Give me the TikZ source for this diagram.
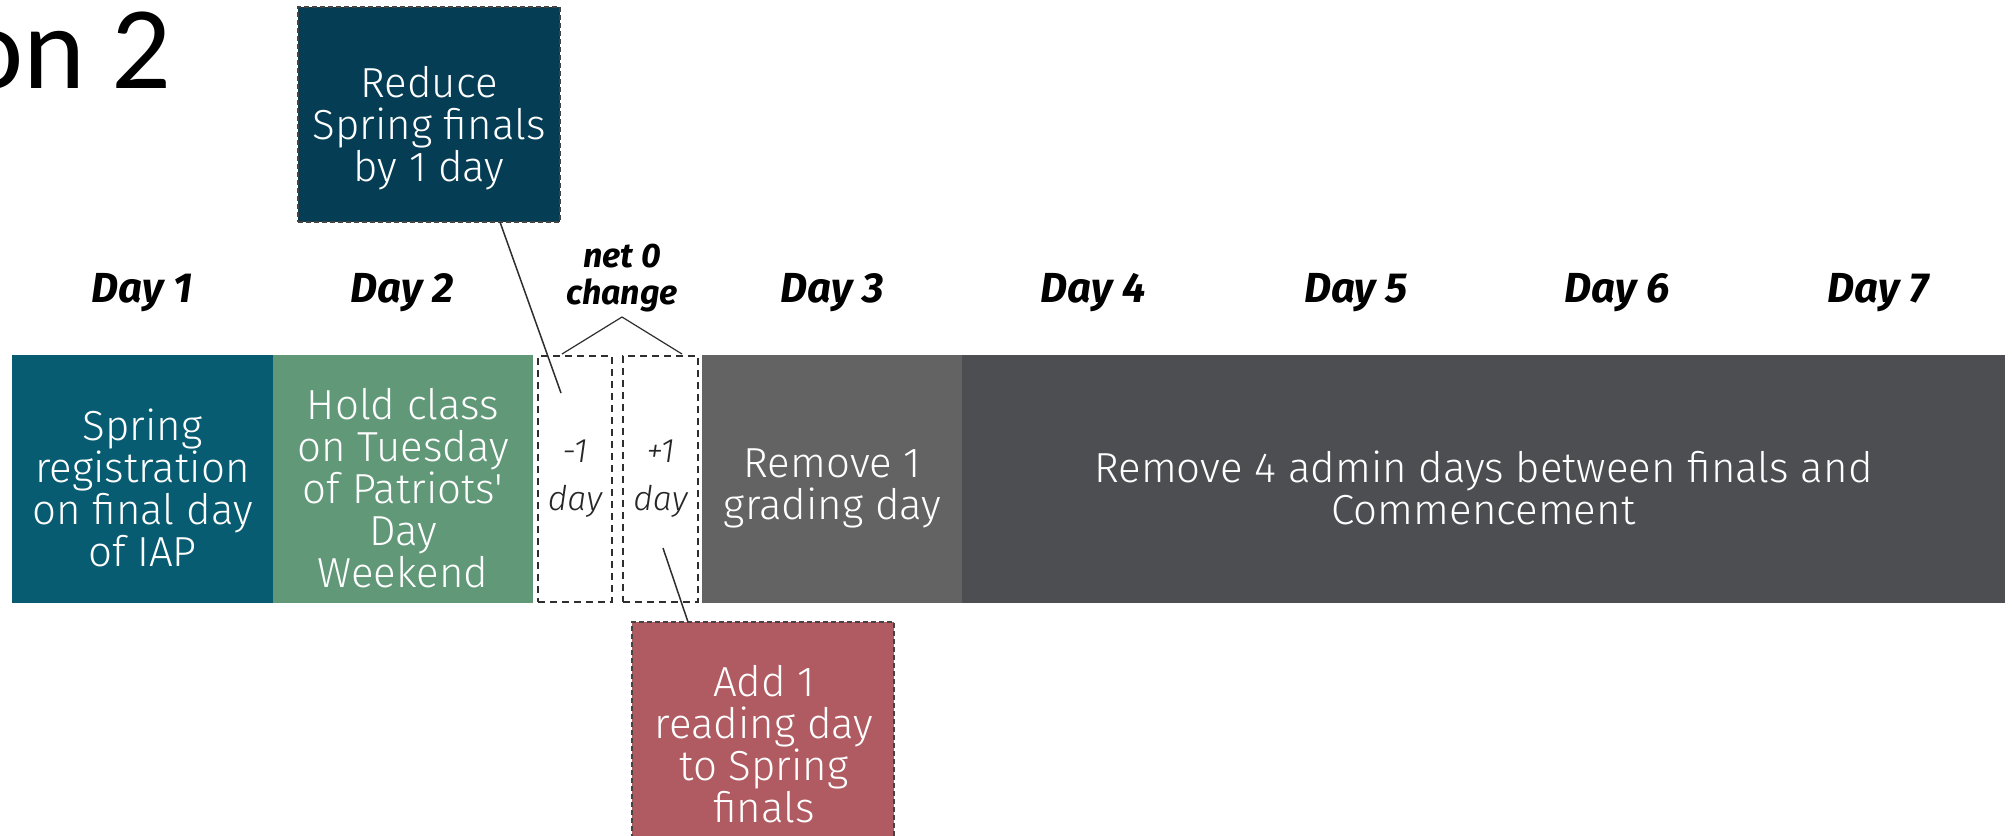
\documentclass[tikz,border=0pt]{standalone}
\usepackage{fontspec}
\setmainfont{Fira Sans}
\newfontfamily\lightf{Fira Sans Light}
\newfontfamily\lightit{Fira Sans Light Italic}
\newfontfamily\boldit{Fira Sans Bold Italic}
\newfontfamily\titlef{Carlito}
\usetikzlibrary{calc}
\definecolor{cteal}{HTML}{075C72}
\definecolor{cgreen}{HTML}{609878}
\definecolor{cnavy}{HTML}{053D55}
\definecolor{cgray}{HTML}{636363}
\definecolor{cdark}{HTML}{4D4E52}
\definecolor{cred}{HTML}{AF5B61}
\definecolor{cline}{HTML}{2E2E2E}
\begin{document}
\begin{tikzpicture}[x=1pt,y=-1pt,
  seg/.style={rectangle, draw=none, inner sep=0pt, outer sep=0pt, anchor=north west,
    minimum height=248pt},
  segtext/.style={inner sep=0pt, text=white, align=center,
    font=\lightf\fontsize{42}{42}\selectfont},
  gapbox/.style={rectangle, draw=cline, line width=2.4pt, dash pattern=on 7pt off 5pt,
    inner sep=0pt, outer sep=0pt, anchor=north west, minimum height=246pt,
    text=black!85, align=center, font=\lightit\fontsize{34}{48}\selectfont},
  callout/.style={rectangle, draw=cline!90, line width=1.6pt, dash pattern=on 5pt off 3pt,
    inner sep=0pt, outer sep=0pt, anchor=north west, minimum width=262pt},
  daylbl/.style={font=\boldit\fontsize{42}{44}\selectfont, anchor=base, inner sep=0pt, text=black},
  conn/.style={draw=cline, line width=1.5pt}
]
\useasboundingbox[fill=white] (0,0) rectangle (2012,835);

% title fragment
\begin{scope}
\clip (0,0) rectangle (2012,835);
\node[font=\titlef\fontsize{118}{120}\selectfont, anchor=base east, inner sep=0pt] (title) at (172,88) {on 2};
\end{scope}

% day labels
\node[daylbl] (d1) at (142,302) {Day 1};
\node[daylbl] (d2) at (402,302) {Day 2};
\node[daylbl] (d3) at (832,302) {Day 3};
\node[daylbl] (d4) at (1093,302) {Day 4};
\node[daylbl] (d5) at (1356,302) {Day 5};
\node[daylbl] (d6) at (1617,302) {Day 6};
\node[daylbl] (d7) at (1878,302) {Day 7};

% bar segments
\node[seg, fill=cteal, minimum width=261pt] (s1) at (12,355) {};
\node[seg, fill=cgreen, minimum width=260pt] (s2) at (273,355) {};
\node[gapbox, minimum width=74pt] (m1) at (538,356) {-1\\day};
\node[gapbox, minimum width=75pt] (p1) at (623,356) {+1\\day};
\node[seg, fill=cgray, minimum width=261pt] (s3) at (702,355) {};
\node[seg, fill=cdark, minimum width=1043pt] (s4) at (962,355) {};

\node[segtext] (t1) at ([yshift=-9pt]s1.center) {Spring\\registration\\on final day\\of IAP};
\node[segtext] (t2) at ([yshift=-9pt]s2.center) {Hold class\\on Tuesday\\of Patriots'\\Day\\Weekend};
\node[segtext] (t3) at ([yshift=-9pt]s3.center) {Remove 1\\grading day};
\node[segtext] (t4) at ([yshift=-9pt]s4.center) {Remove 4 admin days between finals and\\Commencement};

% net 0 change
\coordinate (apex) at (622,317);
\node[font=\boldit\fontsize{34}{37}\selectfont, align=center, anchor=south, inner sep=0pt] (net) at (622,312) {net 0\\change};
\draw[conn, line width=1.2pt] ([xshift=24pt,yshift=2pt]m1.north west) -- (apex) -- ([xshift=-16pt,yshift=2pt]p1.north east);

% callouts
\node[callout, fill=cnavy, minimum height=215pt] (reduce) at (298,7) {};
\node[segtext] (treduce) at ([yshift=-14pt]reduce.center) {Reduce\\Spring finals\\by 1 day};
\node[callout, fill=cred, minimum height=240pt] (add) at (632,622) {};
\node[segtext] (tadd) at ([yshift=-2pt,xshift=1pt]add.center) {Add 1\\reading day\\to Spring\\finals};

\coordinate (rEnd) at (561,393);
\coordinate (aStart) at (663,548);
\draw[conn] ([xshift=202pt]reduce.south west) -- (rEnd);
\draw[conn] (aStart) -- ([xshift=56pt]add.north west);
\end{tikzpicture}
\end{document}
